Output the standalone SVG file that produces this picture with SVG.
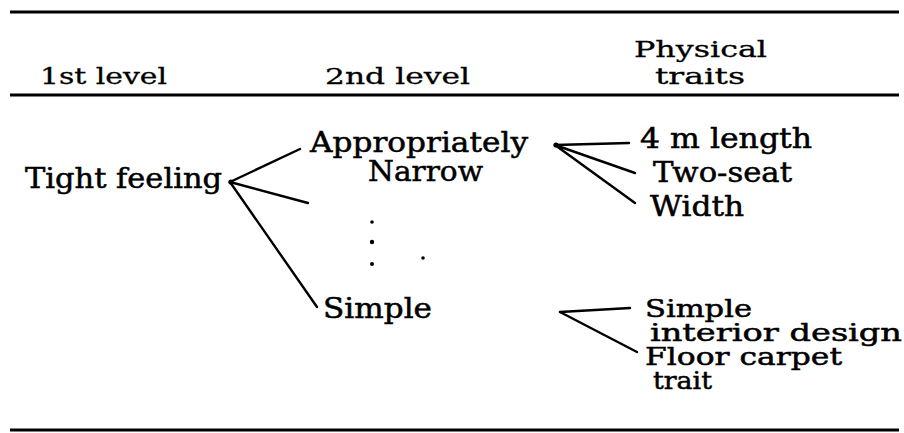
<svg xmlns="http://www.w3.org/2000/svg" width="904" height="433" viewBox="0 0 904 433">
<style>
.h{font-family:"DejaVu Serif","Liberation Serif",serif;font-size:23px;fill:#000;stroke:#000;stroke-width:0.3px;}
.t{font-family:"DejaVu Serif","Liberation Serif",serif;font-size:27px;fill:#000;stroke:#000;stroke-width:0.5px;}
.s{font-size:24px;}
.rule{stroke:#000;stroke-width:3;fill:none;}
.c{stroke:#000;stroke-width:2.4;fill:none;stroke-linecap:round;}
.dot{fill:#000;}
</style>
<rect width="904" height="433" fill="#fff"/>
<g id="rules">
<line class="rule" x1="10" y1="12" x2="899" y2="12"/>
<line class="rule" x1="10" y1="95" x2="899" y2="95"/>
<line class="rule" x1="10" y1="430" x2="899" y2="430"/>
</g>
<g id="headers">
<text class="h" x="40" y="84" textLength="127" lengthAdjust="spacingAndGlyphs">1st level</text>
<text class="h" x="325" y="84" textLength="145" lengthAdjust="spacingAndGlyphs">2nd level</text>
<text class="h" x="634" y="57" textLength="133" lengthAdjust="spacingAndGlyphs">Physical</text>
<text class="h" x="655" y="84" textLength="90" lengthAdjust="spacingAndGlyphs">traits</text>
</g>
<g id="connectors">
<line class="c" x1="230" y1="182" x2="300" y2="149"/>
<line class="c" x1="230" y1="182" x2="308" y2="203"/>
<line class="c" x1="230" y1="182" x2="317" y2="307"/>
<line class="c" x1="555" y1="145" x2="629" y2="143"/>
<line class="c" x1="555" y1="145" x2="635" y2="173"/>
<line class="c" x1="555" y1="145" x2="635" y2="203"/>
<line class="c" x1="560" y1="312" x2="630" y2="308"/>
<line class="c" x1="560" y1="312" x2="637" y2="352"/>
<circle class="dot" cx="231" cy="182" r="2.6"/>
<circle class="dot" cx="556" cy="145" r="2.6"/>
</g>
<g id="node-tight-feeling">
<text class="t" x="25" y="188" textLength="197" lengthAdjust="spacingAndGlyphs">Tight feeling</text>
</g>
<g id="node-appropriately-narrow">
<text class="t" x="310" y="152" textLength="218" lengthAdjust="spacingAndGlyphs">Appropriately</text>
<text class="t" x="368" y="181" textLength="115" lengthAdjust="spacingAndGlyphs">Narrow</text>
</g>
<g id="node-ellipsis">
<circle class="dot" cx="372" cy="222" r="1.8"/>
<circle class="dot" cx="372" cy="242" r="2.2"/>
<circle class="dot" cx="372" cy="264" r="2"/>
<circle class="dot" cx="423" cy="258" r="1.8"/>
</g>
<g id="node-simple">
<text class="t" x="323" y="318" textLength="109" lengthAdjust="spacingAndGlyphs">Simple</text>
</g>
<g id="node-4m-length">
<text class="t" x="640" y="148" textLength="172" lengthAdjust="spacingAndGlyphs">4 m length</text>
</g>
<g id="node-two-seat">
<text class="t" x="653" y="182" textLength="139" lengthAdjust="spacingAndGlyphs">Two-seat</text>
</g>
<g id="node-width">
<text class="t" x="650" y="216" textLength="94" lengthAdjust="spacingAndGlyphs">Width</text>
</g>
<g id="node-simple-interior">
<text class="t s" x="645" y="317" textLength="107" lengthAdjust="spacingAndGlyphs">Simple</text>
<text class="t s" x="650" y="341" textLength="252" lengthAdjust="spacingAndGlyphs">interior design</text>
</g>
<g id="node-floor-carpet">
<text class="t s" x="645" y="365" textLength="197" lengthAdjust="spacingAndGlyphs">Floor carpet</text>
<text class="t s" x="653" y="389" textLength="59" lengthAdjust="spacingAndGlyphs">trait</text>
</g>
</svg>
